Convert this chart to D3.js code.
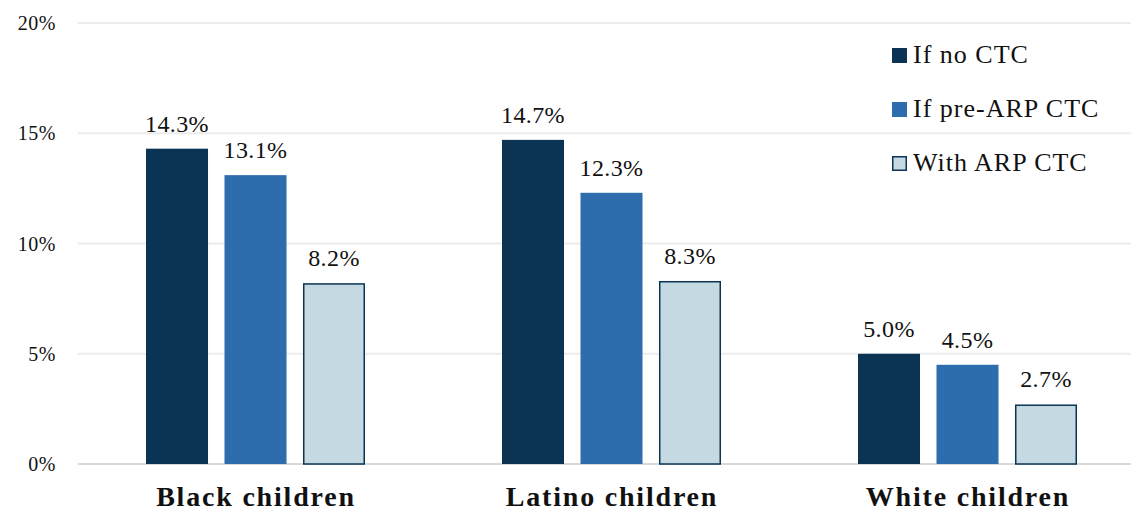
<!DOCTYPE html>
<html><head><meta charset="utf-8">
<script src="https://cdn.jsdelivr.net/npm/d3@7"></script>
<style>
html,body{margin:0;padding:0;background:#fff;}
svg{display:block;font-family:"Liberation Serif","DejaVu Serif",serif;}
</style></head>
<body>
<svg id="chart" width="1131" height="514"></svg>
<script>
const categories = ["Black children", "Latino children", "White children"];
const seriesNames = ["If no CTC", "If pre-ARP CTC", "With ARP CTC"];
const noCTC = [14.3, 14.7, 5.0];
const preARP = [13.1, 12.3, 4.5];
const withARP = [8.2, 8.3, 2.7];
const yTicks = [0, 5, 10, 15, 20];

const seriesValues = [noCTC, preARP, withARP];
const colors = ["#0B3454", "#2E6DAD", "#C5D9E2"];

const svg = d3.select("#chart");
const y = d3.scaleLinear().domain([0, 20]).range([464, 23]);
const x0 = d3.scaleBand().domain(categories).range([78, 1146]).paddingInner(0).paddingOuter(0);
const x1 = d3.scaleBand().domain(seriesNames).range([68, 287]).paddingInner(0.21).paddingOuter(0);

// gridlines
svg.append("g").selectAll("line").data(yTicks).join("line")
  .attr("x1", 78).attr("x2", 1131)
  .attr("y1", d => y(d)).attr("y2", d => y(d))
  .attr("stroke", d => d === 0 ? "#d9d9d9" : "#ececec")
  .attr("stroke-width", 2);

// y tick labels
svg.append("g").selectAll("text").data(yTicks).join("text")
  .attr("x", 56).attr("y", d => y(d) + 7)
  .attr("text-anchor", "end")
  .attr("font-size", 20).attr("fill", "#111")
  .attr("letter-spacing", 0.5)
  .text(d => d + "%");

// bars
const groups = svg.append("g").selectAll("g").data(categories).join("g")
  .attr("transform", c => `translate(${x0(c)},0)`);

groups.each(function(c, ci) {
  const g = d3.select(this);
  seriesNames.forEach((s, si) => {
    const v = seriesValues[si][ci];
    const bx = x1(s), bw = x1.bandwidth();
    g.append("rect")
      .attr("x", bx + (si === 2 ? 0.75 : 0))
      .attr("y", y(v) + (si === 2 ? 0.75 : 0))
      .attr("width", bw - (si === 2 ? 1.5 : 0))
      .attr("height", y(0) - y(v) - (si === 2 ? 0.75 : 0))
      .attr("fill", colors[si])
      .attr("stroke", si === 2 ? "#0B3454" : "none")
      .attr("stroke-width", si === 2 ? 1.5 : 0);
    g.append("text")
      .attr("x", bx + bw / 2).attr("y", y(v) - 17)
      .attr("text-anchor", "middle")
      .attr("font-size", 24).attr("fill", "#111")
      .attr("letter-spacing", 0.4)
      .text(v.toFixed(1) + "%");
  });
  g.append("text")
    .attr("x", x0.bandwidth() / 2 + 0).attr("y", 506)
    .attr("text-anchor", "middle")
    .attr("font-size", 28).attr("font-weight", "bold").attr("fill", "#111")
    .attr("letter-spacing", 1.8)
    .text(c);
});

// legend
const legend = svg.append("g").selectAll("g").data(seriesNames).join("g")
  .attr("transform", (d, i) => `translate(892,${48 + i * 54})`);
legend.append("rect")
  .attr("x", (d, i) => i === 2 ? 0.75 : 0).attr("y", (d, i) => i === 2 ? 0.75 : 0)
  .attr("width", (d, i) => i === 2 ? 13.5 : 15).attr("height", (d, i) => i === 2 ? 13.5 : 15)
  .attr("fill", (d, i) => colors[i])
  .attr("stroke", (d, i) => i === 2 ? "#0B3454" : "none")
  .attr("stroke-width", 1.5);
legend.append("text")
  .attr("x", 21).attr("y", 15)
  .attr("font-size", 26).attr("fill", "#111")
  .attr("letter-spacing", 1)
  .text(d => d);
</script>
</body></html>
